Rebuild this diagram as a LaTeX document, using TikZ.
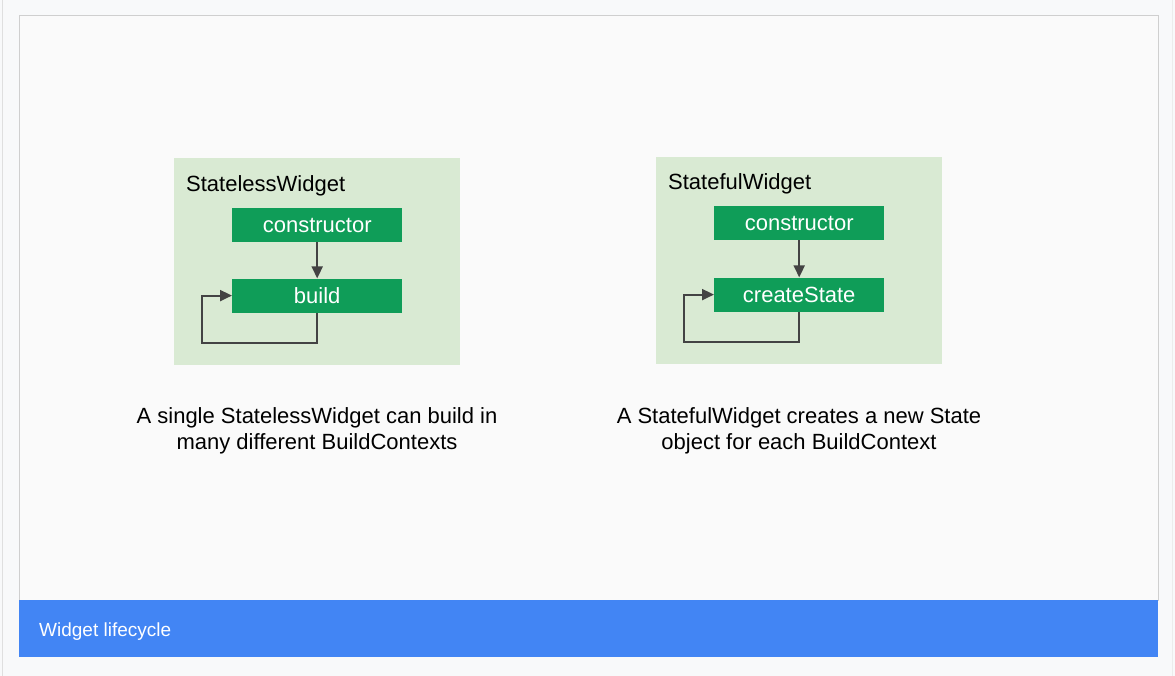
\documentclass[tikz,border=0pt]{standalone}
\usepackage{fontspec}
\setmainfont{Liberation Sans}
\usetikzlibrary{arrows.meta, positioning, calc}
\definecolor{pagebg}{HTML}{F8F9FA}
\definecolor{cardbg}{HTML}{FAFAFA}
\definecolor{cardline}{HTML}{CFCFCF}
\definecolor{panelgreen}{HTML}{D9EAD3}
\definecolor{methodgreen}{HTML}{0F9D58}
\definecolor{barblue}{HTML}{4285F4}
\definecolor{arrowgrey}{HTML}{434343}
\tikzset{
	panel/.style={rectangle, fill=panelgreen, minimum width=286pt, minimum height=207pt, inner sep=0pt, anchor=north west},
	method/.style={rectangle, fill=methodgreen, text=white, minimum width=170pt, minimum height=34pt, inner sep=0pt, font=\fontsize{22}{25}\selectfont},
	paneltitle/.style={font=\fontsize{22}{25}\selectfont, anchor=base west, inner sep=0pt},
	caption/.style={font=\fontsize{22}{26}\selectfont, align=center},
	line/.style={draw=arrowgrey, line width=2pt, -{Triangle[length=12pt, width=11pt]}}
}

\begin{document}
\begin{tikzpicture}[x=1pt, y=-1pt]
    % Page
    \fill[pagebg] (0,0) rectangle (1175,676);
    \useasboundingbox (0,0) rectangle (1175,676);
    \draw[gray!25] (2,0) -- (2,676);
    \draw[gray!15] (1172,0) -- (1172,676);
    \draw[cardline, fill=cardbg] (19,15) rectangle (1158,600);
    \fill[barblue] (19,600) rectangle (1158,657);
    \node[font=\fontsize{19}{22}\selectfont, text=white, anchor=base west, inner sep=0pt] (bartitle) at (39,636) {Widget lifecycle};
    % Nodes
    \node[panel] (lesspanel) at (174,158) {};
    \node[paneltitle] (lesstitle) at (186,192) {StatelessWidget};
    \node[method, below=50pt of lesspanel.north] (lessctor) {constructor};
    \node[method, below=36pt of lessctor] (lessbuild) {build};
    \coordinate[left=30pt of lessbuild.west] (lessloop);
    \node[panel] (fulpanel) at (656,157) {};
    \node[paneltitle] (fultitle) at (668,190) {StatefulWidget};
    \node[method, below=49pt of fulpanel.north] (fulctor) {constructor};
    \node[method, below=37pt of fulctor] (fulstate) {createState};
    \coordinate[left=30pt of fulstate.west] (fulloop);
    % Arrows
    \draw[line] (lessctor) -- (lessbuild);
    \draw[line] (lessbuild.south) -- ++(0,30) -| (lessloop) -- (lessbuild.west);
    \draw[line] (fulctor) -- (fulstate);
    \draw[line] (fulstate.south) -- ++(0,30) -| (fulloop) -- (fulstate.west);
    % Labels
    \node[caption] (lesscaption) at (317,431) {A single StatelessWidget can build in\\many different BuildContexts};
    \node[caption] (fulcaption) at (799,431) {A StatefulWidget creates a new State\\object for each BuildContext};
\end{tikzpicture}
\end{document}
